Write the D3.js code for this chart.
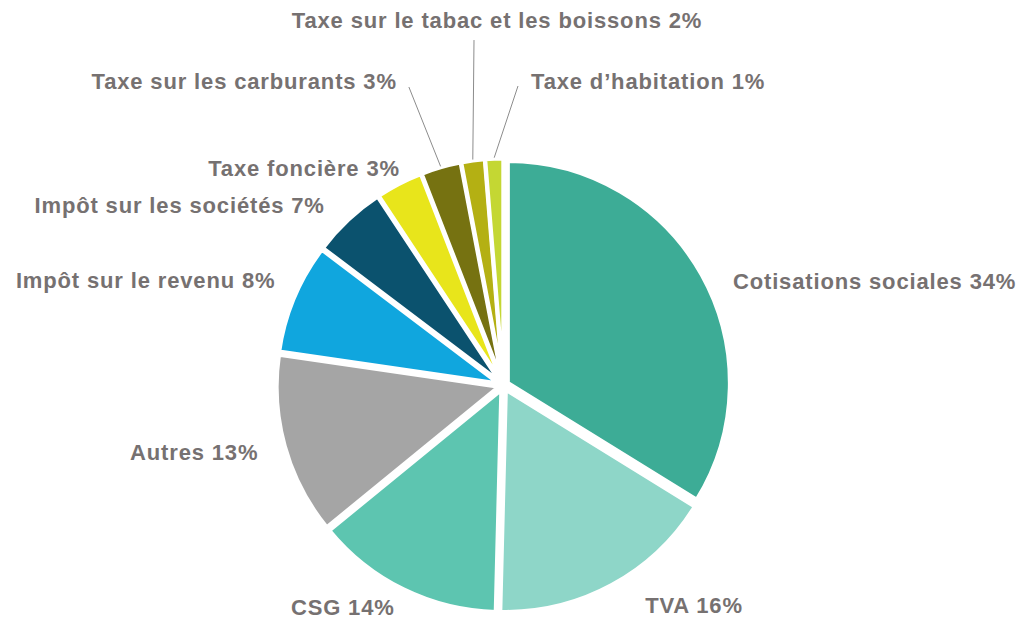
<!DOCTYPE html>
<html>
  <head>
    <meta charset="utf-8">
    <title>Recettes fiscales</title>
    <script src="https://cdn.jsdelivr.net/npm/d3@7"></script>
    <style>
      body { margin: 0; background: #fff; }
      .label { font-family: "Liberation Sans", Arial, sans-serif; font-weight: bold; font-size: 22px; fill: #767171; letter-spacing: 0.85px; }
    </style>
  </head>
  <body>
    <svg id="canvas"></svg>
    <script>
      // data: slice sizes, labels as printed
      const categories = [
        "Cotisations sociales", "TVA", "CSG", "Autres", "Impôt sur le revenu",
        "Impôt sur les sociétés", "Taxe foncière", "Taxe sur les carburants",
        "Taxe sur le tabac et les boissons", "Taxe d’habitation"
      ];
      const shares = [33.8, 16.6, 13.7, 13.2, 8.0, 5.4, 3.4, 2.9, 1.7, 1.3];
      const labelPct = [34, 16, 14, 13, 8, 7, 3, 3, 2, 1];
      const colours = [
        "#3dac96", "#8ed6c8", "#5dc5b0", "#a5a5a5", "#10a6de",
        "#0b526e", "#e8e51b", "#767211", "#b4b013", "#c4d733"
      ];

      // label layout: nudge from the default spot, and which ones get a leader line
      const labelNudge = [[15.5, 15], [25, 4], [-1, 1.5], [-9, 1], [-2, -11],
                          [-11, -2], [9, 0], [-39, -69], [26.5, -122.7], [37.5, -59.7]];
      const leaderEnd = [null, null, null, null, null, null, null, [12, 6], [-23, 20], [-13, 5]];

      const width = 1020, height = 620;
      const cx = 503.5, cy = 385.5, radius = 222, explode = 5;

      const canvas = d3.select("#canvas")
        .attr("width", width)
        .attr("height", height);

      const data = categories.map(function(c, i) {
        return {name: c, value: shares[i], pct: labelPct[i], colour: colours[i], i: i};
      });

      const pie = d3.pie()
        .sort(null)
        .value(function(d) { return d.value; });
      const arcs = pie(data);

      const arc = d3.arc()
        .innerRadius(0)
        .outerRadius(radius);

      function mid(a) { return (a.startAngle + a.endAngle) / 2; }
      function polar(a, r) { return [cx + r * Math.sin(mid(a)), cy - r * Math.cos(mid(a))]; }

      const pieG = canvas.append("g");
      pieG.selectAll("path")
          .data(arcs)
        .enter().append("path")
          .attr("d", arc)
          .attr("transform", function(a) {
            let p = polar(a, explode);
            return "translate(" + p[0] + "," + p[1] + ")";
          })
          .attr("fill", function(a) { return a.data.colour; })
          .attr("stroke", "#fff")
          .attr("stroke-width", 4)
          .attr("stroke-linejoin", "round");

      // labels
      const labels = arcs.map(function(a) {
        let base = polar(a, 245);
        let n = labelNudge[a.data.i];
        let x = base[0] + n[0], y = base[1] + n[1];
        let anchor = a.data.i == 8 ? "middle" : (x > cx ? "start" : "end");
        return {a: a, x: x, y: y, anchor: anchor};
      });

      canvas.selectAll(".leader")
          .data(labels.filter(function(l) { return leaderEnd[l.a.data.i]; }))
        .enter().append("line")
          .classed("leader", true)
          .attr("x1", function(l) { return polar(l.a, 228)[0]; })
          .attr("y1", function(l) { return polar(l.a, 228)[1]; })
          .attr("x2", function(l) { return l.x + leaderEnd[l.a.data.i][0]; })
          .attr("y2", function(l) { return l.y + leaderEnd[l.a.data.i][1]; })
          .attr("stroke", "#8c8c8c")
          .attr("stroke-width", 1);

      canvas.selectAll(".label")
          .data(labels)
        .enter().append("text")
          .classed("label", true)
          .attr("x", function(l) { return l.x; })
          .attr("y", function(l) { return l.y; })
          .attr("dy", "0.35em")
          .attr("text-anchor", function(l) { return l.anchor; })
          .text(function(l) { return l.a.data.name + " " + l.a.data.pct + "%"; });
    </script>
  </body>
</html>
